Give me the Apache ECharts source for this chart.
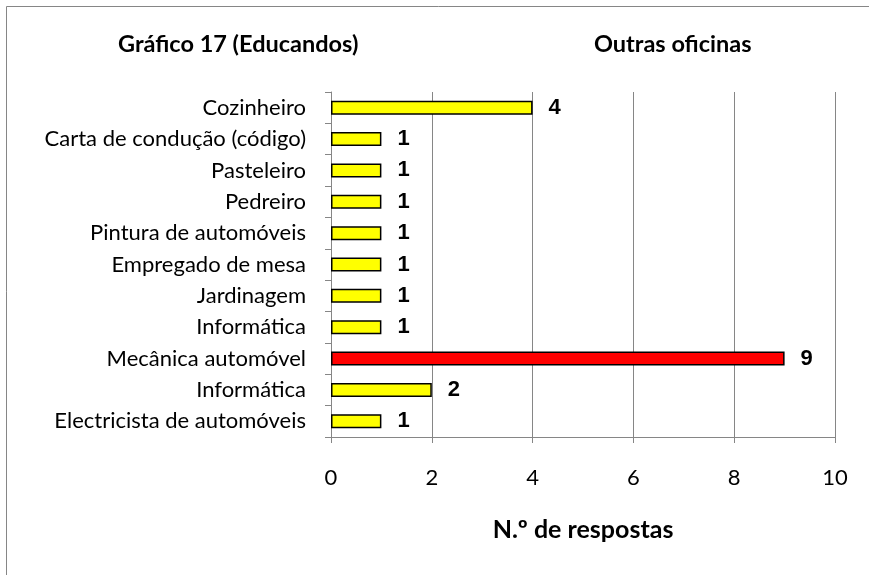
<!DOCTYPE html>
<html>
<head>
<meta charset="utf-8">
<script src="https://cdn.jsdelivr.net/npm/echarts@6/dist/echarts.min.js"></script>
<style>
  html, body { margin: 0; padding: 0; background: #fff; }
  #chart { width: 869px; height: 575px; }
</style>
</head>
<body>
<div id="chart"></div>
<script>
const categories = [
  'Cozinheiro',
  'Carta de condução (código)',
  'Pasteleiro',
  'Pedreiro',
  'Pintura de automóveis',
  'Empregado de mesa',
  'Jardinagem',
  'Informática',
  'Mecânica automóvel',
  'Informática',
  'Electricista de automóveis'
];
const values = [4, 1, 1, 1, 1, 1, 1, 1, 9, 2, 1];
const xTicks = [0, 2, 4, 6, 8, 10];

const chart = echarts.init(document.getElementById('chart'));
const labelFont = 'Lato, "Open Sans", sans-serif';
const maxVal = Math.max(...values);

const option = {
  animation: false,
  backgroundColor: '#fff',
  graphic: [
    {
      type: 'rect',
      shape: { x: 6.5, y: 6.5, width: 900, height: 600 },
      style: { fill: 'none', stroke: '#868686', lineWidth: 1 },
      silent: true
    },
    {
      type: 'text',
      left: 118, top: 32,
      style: { text: 'Gráfico 17 (Educandos)', font: 'bold 23.5px ' + labelFont, fill: '#000' }
    },
    {
      type: 'text',
      left: 594, top: 32,
      style: { text: 'Outras oficinas', font: 'bold 23.5px ' + labelFont, fill: '#000' }
    }
  ],
  grid: { left: 331, right: 34, top: 92, bottom: 138, containLabel: false },
  xAxis: {
    type: 'value',
    min: xTicks[0],
    max: xTicks[xTicks.length - 1],
    interval: 2,
    name: 'N.º de respostas',
    nameLocation: 'middle',
    nameGap: 80,
    nameTextStyle: { fontFamily: labelFont, fontWeight: 'bold', fontSize: 25, color: '#000' },
    axisLine: { show: true, lineStyle: { color: '#868686', width: 1 } },
    axisTick: { show: true, length: 6, inside: false, lineStyle: { color: '#868686' } },
    axisLabel: { fontFamily: labelFont, fontSize: 22, color: '#000', margin: 30 },
    splitLine: { show: true, lineStyle: { color: '#868686', width: 1 } }
  },
  yAxis: {
    type: 'category',
    data: categories,
    inverse: true,
    axisLine: { show: true, lineStyle: { color: '#868686', width: 1 } },
    axisTick: { show: true, length: 6, alignWithLabel: false, lineStyle: { color: '#868686' } },
    axisLabel: { fontFamily: labelFont, fontSize: 22, color: '#000', margin: 25 },
    splitLine: { show: false }
  },
  series: [
    {
      type: 'bar',
      barWidth: 14,
      data: values.map(v => ({
        value: v,
        itemStyle: { color: v === maxVal ? '#ff0000' : '#ffff00' }
      })),
      itemStyle: { borderColor: '#000', borderWidth: 1.5 },
      label: {
        show: true,
        position: 'right',
        distance: 16,
        fontFamily: '"Liberation Sans", Arial, sans-serif',
        fontWeight: 'bold',
        fontSize: 22,
        color: '#000'
      }
    }
  ]
};

chart.setOption(option);
</script>
</body>
</html>
